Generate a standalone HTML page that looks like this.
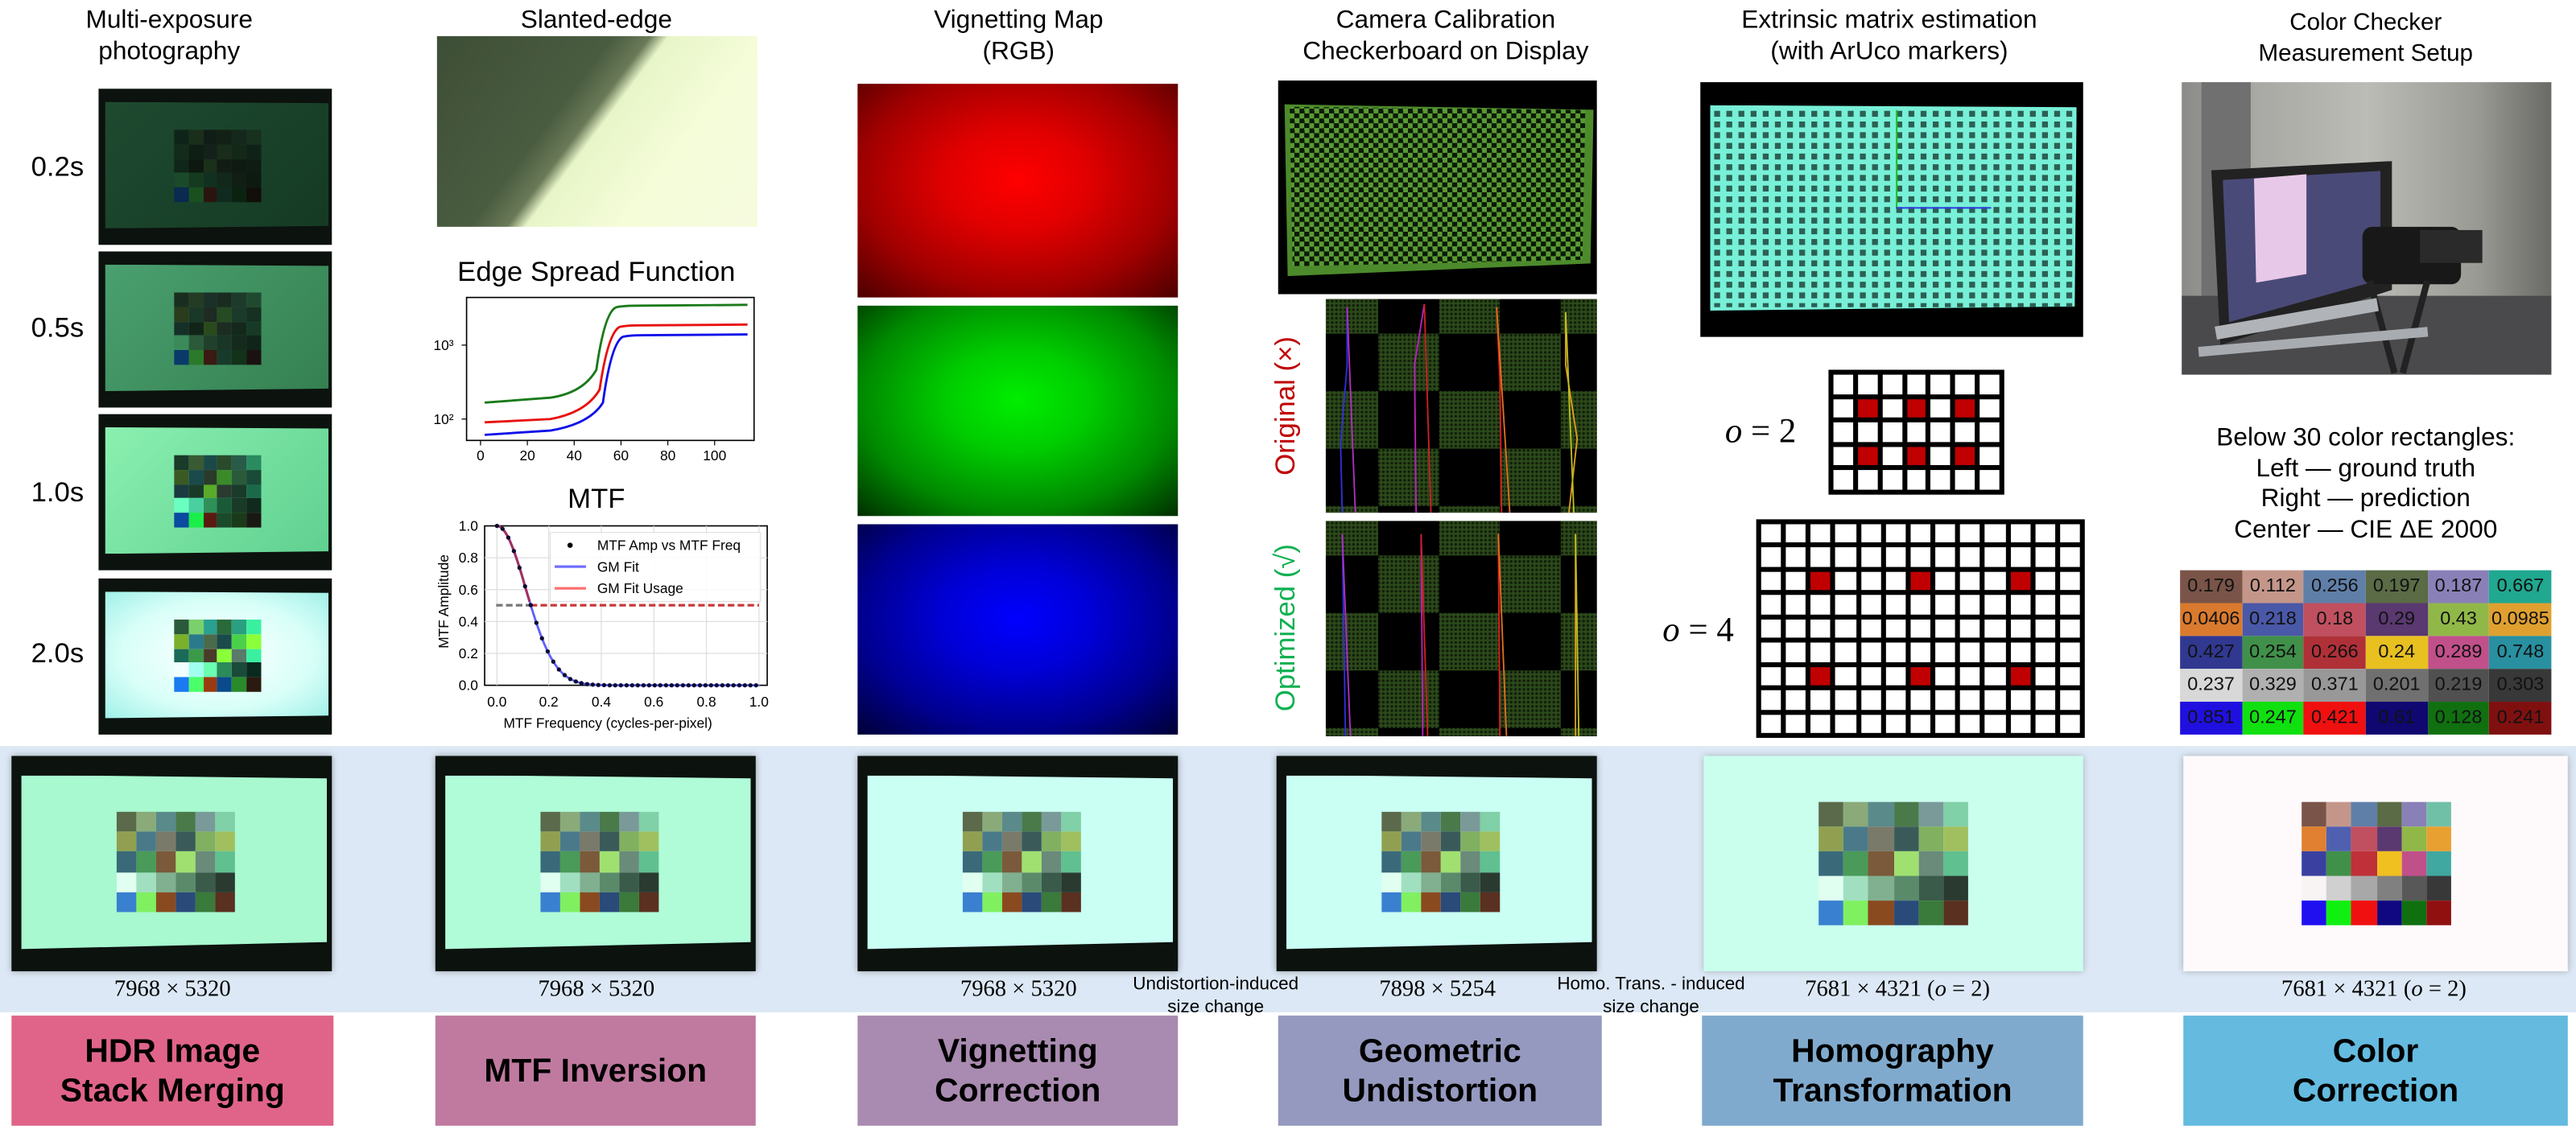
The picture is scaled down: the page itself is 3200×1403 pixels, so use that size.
<!DOCTYPE html>
<html><head><meta charset="utf-8">
<style>
*{margin:0;padding:0;box-sizing:border-box}
html,body{width:3200px;height:1403px;overflow:hidden;background:#fff}
#w{position:absolute;left:0;top:0;width:1568px;height:687px;transform-origin:0 0;transform:scale(2.04082,2.04221);font-family:"Liberation Sans",sans-serif;color:#000}
.a{position:absolute}
.t{position:absolute;text-align:center;font-size:15.5px;line-height:19px;white-space:nowrap}
.mon{position:absolute;background:#0c120e;overflow:hidden;box-shadow:0 0 4px rgba(0,0,0,0.35)}
.scr{position:absolute}
.chk{position:absolute;display:grid;grid-template-columns:repeat(6,1fr);grid-template-rows:repeat(5,1fr)}
.box{position:absolute;top:618px;height:67px;display:flex;align-items:center;justify-content:center;text-align:center;font-weight:bold;font-size:20px;line-height:24px}
.sz{position:absolute;top:595px;font-family:"Liberation Serif",serif;font-size:14px;text-align:center;white-space:nowrap}
.grid{position:absolute;display:grid;background:#000;gap:3px;padding:3px}
.grid div{background:#fff}
.grid div.r{background:#c00000}
.ct{position:absolute;left:1327px;top:347px;width:226px;height:100px;display:grid;grid-template-columns:repeat(6,1fr);grid-template-rows:repeat(5,1fr);font-size:11.5px}
.ct div{display:flex;align-items:center;justify-content:center;color:#111}
.cb{position:absolute;background:#000;overflow:hidden}
.cb .p{position:absolute;left:0;top:0;width:100%;height:100%;background:repeating-conic-gradient(#000 0 25%,#2c4a1a 0 50%);background-size:74px 70px}
.cb .d{position:absolute;left:0;top:0;width:100%;height:100%;background-image:radial-gradient(#000 0.7px,transparent 1px);background-size:2.6px 2.6px;opacity:0.6}
</style></head><body>
<div id="w">
<div class="a" style="left:0;top:454px;width:1568px;height:162px;background:#dce8f5"></div>

<div class="t" style="left:3px;top:3px;width:200px">Multi-exposure<br>photography</div>
<div class="t" style="left:263px;top:3px;width:200px">Slanted-edge</div>
<div class="t" style="left:520px;top:3px;width:200px">Vignetting Map<br>(RGB)</div>
<div class="t" style="left:770px;top:3px;width:220px">Camera Calibration<br>Checkerboard on Display</div>
<div class="t" style="left:1035px;top:3px;width:230px">Extrinsic matrix estimation<br>(with ArUco markers)</div>
<div class="t" style="left:1330px;top:5px;width:220px;font-size:14.5px">Color Checker<br>Measurement Setup</div>

<div class="t" style="left:10px;top:92px;width:50px;font-size:17px">0.2s</div>
<div class="t" style="left:10px;top:190px;width:50px;font-size:17px">0.5s</div>
<div class="t" style="left:10px;top:290px;width:50px;font-size:17px">1.0s</div>
<div class="t" style="left:10px;top:388px;width:50px;font-size:17px">2.0s</div>

<div id="exp"></div>

<div class="a" style="left:266px;top:22px;width:195px;height:116px;background:linear-gradient(127deg,#3d4e36 0%,#4a5c40 38%,#6a7a58 46%,#e8f5c8 50%,#f4fcd8 70%,#f6fbe0 100%)"></div>

<div class="t" style="left:263px;top:156px;width:200px;font-size:17px">Edge Spread Function</div>
<svg class="a" style="left:255px;top:175px" width="215" height="110" viewBox="0 0 215 110">
<rect x="29" y="6" width="175" height="87" fill="#fff" stroke="#000" stroke-width="0.8"/>
<g font-family="Liberation Sans" font-size="8.5" text-anchor="middle">
<text x="37.5" y="105">0</text><text x="66" y="105">20</text><text x="94.5" y="105">40</text><text x="123" y="105">60</text><text x="151.5" y="105">80</text><text x="180" y="105">100</text>
<text x="15" y="38">10³</text><text x="15" y="83">10²</text></g>
<g stroke="#000" stroke-width="0.6"><line x1="37.5" y1="93" x2="37.5" y2="96"/><line x1="66" y1="93" x2="66" y2="96"/><line x1="94.5" y1="93" x2="94.5" y2="96"/><line x1="123" y1="93" x2="123" y2="96"/><line x1="151.5" y1="93" x2="151.5" y2="96"/><line x1="180" y1="93" x2="180" y2="96"/><line x1="26" y1="35" x2="29" y2="35"/><line x1="26" y1="80" x2="29" y2="80"/></g>
<path d="M40,70 L80,67 Q100,64 108,50 Q113,15 120,12 Q124,11 135,11 L200,10.5" fill="none" stroke="#1a7a1a" stroke-width="1.4"/>
<path d="M40,82 L80,80 Q102,76 110,62 Q115,28 122,24 Q126,23 135,23 L200,22.5" fill="none" stroke="#e81010" stroke-width="1.4"/>
<path d="M40,89.6 L80,87 Q104,83 112,70 Q117,34 124,30 Q128,29 137,29 L200,28.5" fill="none" stroke="#1010e8" stroke-width="1.4"/>
</svg>

<div class="t" style="left:263px;top:294px;width:200px;font-size:17px">MTF</div>
<svg class="a" style="left:260px;top:314px" width="215" height="120" viewBox="0 0 215 120">
<rect x="35" y="6" width="172" height="97" fill="#fff" stroke="#000" stroke-width="0.8"/>
<g stroke="#ddd" stroke-width="0.6">
<line x1="42.5" y1="6" x2="42.5" y2="103"/><line x1="74" y1="6" x2="74" y2="103"/><line x1="106" y1="6" x2="106" y2="103"/><line x1="138" y1="6" x2="138" y2="103"/><line x1="170" y1="6" x2="170" y2="103"/><line x1="202" y1="6" x2="202" y2="103"/>
<line x1="35" y1="25.4" x2="207" y2="25.4"/><line x1="35" y1="44.8" x2="207" y2="44.8"/><line x1="35" y1="64.2" x2="207" y2="64.2"/><line x1="35" y1="83.6" x2="207" y2="83.6"/>
</g>
<g font-family="Liberation Sans" font-size="8.5" text-anchor="end">
<text x="31" y="9">1.0</text><text x="31" y="28.4">0.8</text><text x="31" y="47.8">0.6</text><text x="31" y="67.2">0.4</text><text x="31" y="86.6">0.2</text><text x="31" y="106">0.0</text></g>
<g font-family="Liberation Sans" font-size="8.5" text-anchor="middle">
<text x="42.5" y="116">0.0</text><text x="74" y="116">0.2</text><text x="106" y="116">0.4</text><text x="138" y="116">0.6</text><text x="170" y="116">0.8</text><text x="202" y="116">1.0</text></g>
<text x="0" y="0" transform="translate(13,52) rotate(-90)" font-family="Liberation Sans" font-size="8.5" text-anchor="middle">MTF Amplitude</text>
<line x1="42" y1="54.3" x2="63" y2="54.3" stroke="#777" stroke-width="1.6" stroke-dasharray="4,2"/>
<line x1="63" y1="54.3" x2="202" y2="54.3" stroke="#c83838" stroke-width="1.6" stroke-dasharray="4,2"/>
<path id="mc" d="" fill="none" stroke="#6060ff" stroke-width="1.4"/>
<path id="mc2" d="" fill="none" stroke="#a03060" stroke-width="1.5"/>
<g id="dots" fill="#0a0a30"></g>
<rect x="75" y="10" width="128" height="42" fill="#fff" fill-opacity="0.85" stroke="#ddd" stroke-width="0.5"/>
<circle cx="87" cy="17.8" r="1.6" fill="#000"/>
<line x1="77.6" y1="30.8" x2="96.7" y2="30.8" stroke="#7070ff" stroke-width="1.6"/>
<line x1="77.6" y1="44" x2="96.7" y2="44" stroke="#ff7070" stroke-width="1.6"/>
<g font-family="Liberation Sans" font-size="8.5"><text x="103.5" y="20.8">MTF Amp vs MTF Freq</text><text x="103.5" y="33.8">GM Fit</text><text x="103.5" y="47">GM Fit Usage</text></g>
</svg>
<div class="t" style="left:270px;top:435px;width:200px;font-size:8.5px;line-height:10px">MTF Frequency (cycles-per-pixel)</div>

<div class="a" style="left:522px;top:51px;width:195px;height:130px;background:radial-gradient(ellipse 75% 80% at 50% 45%,#ff0000 0%,#e00000 30%,#a00000 65%,#400000 100%)"></div>
<div class="a" style="left:522px;top:186px;width:195px;height:128px;background:radial-gradient(ellipse 75% 80% at 50% 45%,#00ee00 0%,#00cc00 30%,#008a00 65%,#002000 100%)"></div>
<div class="a" style="left:522px;top:319px;width:195px;height:128px;background:radial-gradient(ellipse 75% 80% at 50% 45%,#0000ff 0%,#0000d8 30%,#000090 65%,#000028 100%)"></div>

<div class="a" style="left:778px;top:49px;width:194px;height:130px;background:#000"></div>
<div class="a" style="left:780px;top:58px;width:190px;height:110px;background:#4c8a2c;clip-path:polygon(1% 5%,100% 8%,99% 93%,2% 100%)"></div>
<div class="a" style="left:785px;top:63px;width:180px;height:99px;background:repeating-conic-gradient(#0a1a06 0 25%,#5a9a34 0 50%);background-size:6px 6px;clip-path:polygon(0 2%,100% 4%,99% 96%,1% 100%)"></div>

<div class="cb" style="left:807px;top:182px;width:165px;height:130px">
 <div class="p" style="background-position:-5px -14px"></div><div class="d"></div>
 <svg class="a" style="left:0;top:0" width="165" height="130"><g fill="none" stroke-width="0.9">
 <polyline points="13,5 13,40 9,88 10,130" stroke="#3030e0"/><polyline points="13,5 18,130" stroke="#b030c0"/>
 <polyline points="60,3 54,40 55,130" stroke="#c020c0"/><polyline points="60,3 64,130" stroke="#d02020"/>
 <polyline points="104,5 106,50 107,130" stroke="#e02020"/><polyline points="104,5 112,130" stroke="#e07020"/>
 <polyline points="146,8 146,40 153,85 148,130" stroke="#e0a020"/><polyline points="146,8 151,130" stroke="#c0c020"/>
 </g></svg>
</div>
<div class="cb" style="left:807px;top:317px;width:165px;height:131px">
 <div class="p" style="background-position:-5px -14px"></div><div class="d"></div>
 <svg class="a" style="left:0;top:0" width="165" height="131"><g fill="none" stroke-width="0.9">
 <line x1="10" y1="8" x2="12" y2="131" stroke="#3030e0"/><line x1="10" y1="8" x2="15" y2="131" stroke="#b030c0"/>
 <line x1="58" y1="8" x2="59" y2="131" stroke="#c020c0"/><line x1="58" y1="8" x2="62" y2="131" stroke="#d02020"/>
 <line x1="105" y1="8" x2="106" y2="131" stroke="#e02020"/><line x1="105" y1="8" x2="110" y2="131" stroke="#e07020"/>
 <line x1="152" y1="8" x2="152" y2="131" stroke="#e0a020"/><line x1="152" y1="8" x2="154" y2="131" stroke="#c0c020"/>
 </g></svg>
</div>
<div class="a" style="left:783px;top:247px;width:0;height:0"><div style="position:absolute;left:0;top:0;transform:translate(-50%,-50%) rotate(-90deg);white-space:nowrap;color:#c00000;font-size:17px">Original (×)</div></div>
<div class="a" style="left:783px;top:382px;width:0;height:0"><div style="position:absolute;left:0;top:0;transform:translate(-50%,-50%) rotate(-90deg);white-space:nowrap;color:#10b050;font-size:17px">Optimized (√)</div></div>

<div class="a" style="left:1035px;top:50px;width:233px;height:155px;background:#000"></div>
<div class="a" style="left:1041px;top:64px;width:223px;height:125px;background-color:#78f0d8;clip-path:polygon(0 0,100% 1%,99.5% 98%,0 100%)"></div>
<div class="a" style="left:1042px;top:66px;width:221px;height:121px;background-image:linear-gradient(90deg,transparent 0 1.5px,rgba(30,70,60,0.85) 1.5px 5px,transparent 5px);background-size:7.4px 6.5px;-webkit-mask-image:linear-gradient(transparent 0 1.5px,#000 1.5px 5px,transparent 5px);-webkit-mask-size:7.4px 6.5px;mask-image:linear-gradient(transparent 0 1.5px,#000 1.5px 5px,transparent 5px);mask-size:7.4px 6.5px"></div>
<div class="a" style="left:1154px;top:67px;width:1.2px;height:60px;background:#20c020"></div>
<div class="a" style="left:1154px;top:126px;width:58px;height:1.2px;background:#3040e0"></div>

<div class="a" style="left:1050px;top:250px;font-family:'Liberation Serif',serif;font-size:21px"><i>o</i> = 2</div>
<div class="a" style="left:1012px;top:371px;font-family:'Liberation Serif',serif;font-size:21px"><i>o</i> = 4</div>
<div id="g2" class="grid" style="left:1113px;top:225px;width:107px;height:76px;grid-template-columns:repeat(7,1fr);grid-template-rows:repeat(5,1fr)"></div>
<div id="g4" class="grid" style="left:1069px;top:316px;width:200px;height:133px;grid-template-columns:repeat(13,1fr);grid-template-rows:repeat(9,1fr)"></div>

<div class="a" style="left:1328px;top:50px;width:225px;height:178px;overflow:hidden;background:linear-gradient(90deg,#8a8a88 0%,#a8a8a4 20%,#bcbcb6 50%,#9a9a94 80%,#6a6a66 100%)">
 <div class="a" style="left:12px;top:0;width:30px;height:178px;background:#707070"></div>
 <div class="a" style="left:0;top:130px;width:225px;height:48px;background:#4a4a4c"></div>
 <div class="a" style="left:18px;top:48px;width:110px;height:112px;background:#222;clip-path:polygon(0 5%,100% 0,100% 70%,5% 100%)"></div>
 <div class="a" style="left:25px;top:54px;width:96px;height:92px;background:#4a4a78;clip-path:polygon(0 6%,100% 0,100% 72%,4% 100%)"></div>
 <div class="a" style="left:44px;top:56px;width:32px;height:66px;background:#e8c8e8;clip-path:polygon(0 4%,100% 0,100% 92%,4% 100%)"></div>
 <div class="a" style="left:110px;top:88px;width:60px;height:35px;background:#181818;border-radius:6px"></div>
 <div class="a" style="left:145px;top:90px;width:38px;height:20px;background:#2a2a2a"></div>
 <div class="a" style="left:120px;top:120px;width:4px;height:58px;background:#222;transform:rotate(-15deg)"></div>
 <div class="a" style="left:140px;top:120px;width:4px;height:58px;background:#222;transform:rotate(15deg)"></div>
 <div class="a" style="left:20px;top:140px;width:100px;height:8px;background:#b0b4b8;transform:rotate(-10deg)"></div>
 <div class="a" style="left:10px;top:155px;width:140px;height:6px;background:#a8acb0;transform:rotate(-5deg)"></div>
</div>

<div class="t" style="left:1330px;top:258px;width:220px;font-size:15.5px;line-height:18.5px">Below 30 color rectangles:<br>Left — ground truth<br>Right — prediction<br>Center — CIE ΔE 2000</div>
<div class="ct" id="ct"></div>

<div id="bot"></div>

<div class="sz" style="left:20px;width:170px">7968 × 5320</div>
<div class="sz" style="left:278px;width:170px">7968 × 5320</div>
<div class="sz" style="left:535px;width:170px">7968 × 5320</div>
<div class="sz" style="left:790px;width:170px">7898 × 5254</div>
<div class="sz" style="left:1070px;width:170px">7681 × 4321 (<i>o</i> = 2)</div>
<div class="sz" style="left:1360px;width:170px">7681 × 4321 (<i>o</i> = 2)</div>
<div class="a" style="left:680px;top:592px;width:120px;text-align:center;font-size:11px;line-height:14px">Undistortion-induced<br>size change</div>
<div class="a" style="left:935px;top:592px;width:140px;text-align:center;font-size:11px;line-height:14px">Homo. Trans. - induced<br>size change</div>

<div class="box" style="left:7px;width:196px;background:#e06489">HDR Image<br>Stack Merging</div>
<div class="box" style="left:265px;width:195px;background:#c07aa0">MTF Inversion</div>
<div class="box" style="left:522px;width:195px;background:#a98ab0">Vignetting<br>Correction</div>
<div class="box" style="left:778px;width:197px;background:#9599bf">Geometric<br>Undistortion</div>
<div class="box" style="left:1036px;width:232px;background:#80aacd">Homography<br>Transformation</div>
<div class="box" style="left:1329px;width:234px;background:#64badf">Color<br>Correction</div>
</div>
<script>
function chk(cols){return cols.map(c=>'<div style="background:'+c+'"></div>').join('');}
var E=[
 ['#0f2418','#1a2e1c','#101c16','#132016','#15281c','#18301e','#142a1a','#0e1e14','#14201a','#1a2c1a','#142818','#102218','#10261a','#0c1810','#1a301a','#121c14','#0e1a12','#0e1c14','#1a4a2a','#153a20','#123020','#12281a','#101e14','#0c1a10','#0a2a50','#1a5020','#2a1410','#102a20','#0c2210','#120e0a'],
 ['#1a2e20','#243c24','#1a3028','#1a2c20','#1e3a2c','#204a30','#2a3c1c','#1a3828','#1e2a22','#264a22','#1c3a2a','#163022','#163028','#122418','#2a4a1e','#1c2c22','#14281c','#163a26','#3a8a5a','#2a5a3a','#20402c','#1a3626','#142a1c','#10241a','#0a3a6a','#2a7a2a','#3a1a12','#183a2a','#12321a','#1a1210'],
 ['#1a3a2a','#3a5a34','#1a4a48','#2a4a2c','#2a5a48','#2a8a60','#3a5a24','#1a4a4a','#2a3a2a','#3a8a2a','#2a5a3a','#1a4a38','#1a3a40','#1a3a28','#5aaa2a','#2a3a30','#1a3a2a','#1a6a4a','#6affc0','#4ad0a0','#30905a','#1a5a38','#1a3a28','#102a1e','#0a4aa0','#1aee4a','#5a1a10','#1a4a2a','#1a3a1a','#1a1812'],
 ['#2a5a3a','#7ad06a','#2aa090','#2a6a3a','#2aa080','#3af0a0','#7ab02a','#2a7a8a','#4a6a4a','#1a4a4a','#4ad04a','#8aff3a','#1a6a5a','#3a9a4a','#4a3a2a','#8aff3a','#5a7a6a','#3af0a0','#f0ffff','#a0ffee','#6affb0','#2a8a5a','#1a4a3a','#0a2a20','#1a7af0','#4aff6a','#9a3a10','#0a4a8a','#2a8a2a','#2a1a10']];
var scr=['linear-gradient(135deg,#1e4a30,#153a24)','linear-gradient(135deg,#4aa070,#358050)','linear-gradient(135deg,#8af0b0,#60d090)','radial-gradient(ellipse at 50% 50%,#ffffff,#d8fff8 60%,#a0f0e8)'];
var tops=[54,153,252,352];var s='';
for(var i=0;i<4;i++){s+='<div class="mon" style="left:60px;top:'+tops[i]+'px;width:142px;height:95px;box-shadow:none"><div class="scr" style="left:4px;top:8px;width:136px;height:77px;background:'+scr[i]+';clip-path:polygon(0 0,100% 1%,100% 98%,0 100%)"></div><div class="chk" style="left:46px;top:25px;width:53px;height:44px">'+chk(E[i])+'</div></div>';}
document.getElementById('exp').innerHTML=s;
var B=['#5a6a4a','#8aaa7a','#5a8a8a','#4a7a4a','#7a9a9a','#80d0a8','#90a050','#4a7a8a','#7a7a6a','#3a5a5a','#80b060','#a0c060','#3a6a7a','#4a9a5a','#7a5a3a','#a0e070','#6a8a7a','#60c090','#e0fff0','#a0e0c0','#80b090','#5a8a6a','#3a5a4a','#2a3a30','#3a80d0','#80f060','#8a4a20','#2a4a7a','#3a7a3a','#5a3020'];
var C=['#7a5448','#c4968a','#5f7fa8','#5a6b45','#8a80b8','#70c0a8','#e08030','#5060b0','#c05060','#5a3870','#90b848','#e8a030','#3a40a0','#40904a','#c03038','#f0c020','#c0508a','#40a8a0','#f8f4f4','#d0d0d0','#a8a8a8','#808080','#585858','#383838','#2010f0','#10f010','#f01010','#100880','#107010','#901010'];
var BL=[[7,202,'dark','#a8f8d0'],[265,460,'dark','#b0fcd8'],[522,717,'dark','#cafff4'],[777,972,'dark','#cafff4'],[1037,1268,'flat','#caffee'],[1329,1563,'flat','#fefafc']];
var b='';
BL.forEach(function(p,k){var L=p[0],W=p[1]-p[0];var cols=k==5?C:B;
 if(p[2]=='dark'){b+='<div class="mon" style="left:'+L+'px;top:460px;width:'+W+'px;height:131px"><div class="scr" style="left:6px;top:11.5px;width:'+(W-9)+'px;height:106px;background:'+p[3]+';clip-path:polygon(0 0,100% 2%,100% 96%,0 100%)"></div><div class="chk" style="left:64px;top:34px;width:72px;height:61px">'+chk(cols)+'</div></div>';}
 else{b+='<div class="a" style="left:'+L+'px;top:460px;width:'+W+'px;height:131px;background:'+p[3]+';box-shadow:0 0 4px rgba(0,0,0,0.25)"><div class="chk" style="left:'+(k==5?72:70)+'px;top:28px;width:91px;height:75px">'+chk(cols)+'</div></div>';}
});
document.getElementById('bot').innerHTML=b;
var V=['0.179','0.112','0.256','0.197','0.187','0.667','0.0406','0.218','0.18','0.29','0.43','0.0985','0.427','0.254','0.266','0.24','0.289','0.748','0.237','0.329','0.371','0.201','0.219','0.303','0.851','0.247','0.421','0.61','0.128','0.241'];
var T=['#7a5448','#c4968a','#5f7fa8','#5a6b45','#8a80b8','#20a890','#d97a2e','#4a58a8','#c05060','#5a3870','#90b848','#e0a030','#303890','#40904a','#b03038','#e8c020','#c0508a','#2890a0','#d8d8d8','#b0b0b0','#989898','#707070','#505050','#383838','#2010e0','#10e010','#f01010','#100870','#107010','#801010'];
document.getElementById('ct').innerHTML=V.map((v,i)=>'<div style="background:'+T[i]+'">'+v+'</div>').join('');
function g(id,n,red){var h='';for(var i=0;i<n;i++)h+='<div'+(red.indexOf(i)>=0?' class="r"':'')+'></div>';document.getElementById(id).innerHTML=h;}
g('g2',35,[8,10,12,22,24,26]);
g('g4',117,[28,32,36,80,84,88]);
function Y(f){return 103-Math.exp(-f*f/(2*0.11*0.11))*97;}
var d='',dots='';for(var f=0;f<=1.0001;f+=0.005){d+=(f==0?'M':'L')+(42.5+f*159.5).toFixed(1)+','+Y(f).toFixed(1);}
document.getElementById('mc').setAttribute('d',d);
var d2='';for(var f=0;f<=0.13;f+=0.005){d2+=(f==0?'M':'L')+(42.5+f*159.5).toFixed(1)+','+Y(f).toFixed(1);}
document.getElementById('mc2').setAttribute('d',d2);
for(var f=0;f<=1.0001;f+=0.0215){dots+='<circle cx="'+(42.5+f*159.5).toFixed(1)+'" cy="'+Y(f).toFixed(1)+'" r="1.3"/>';}
document.getElementById('dots').innerHTML=dots;
</script>
</body></html>
